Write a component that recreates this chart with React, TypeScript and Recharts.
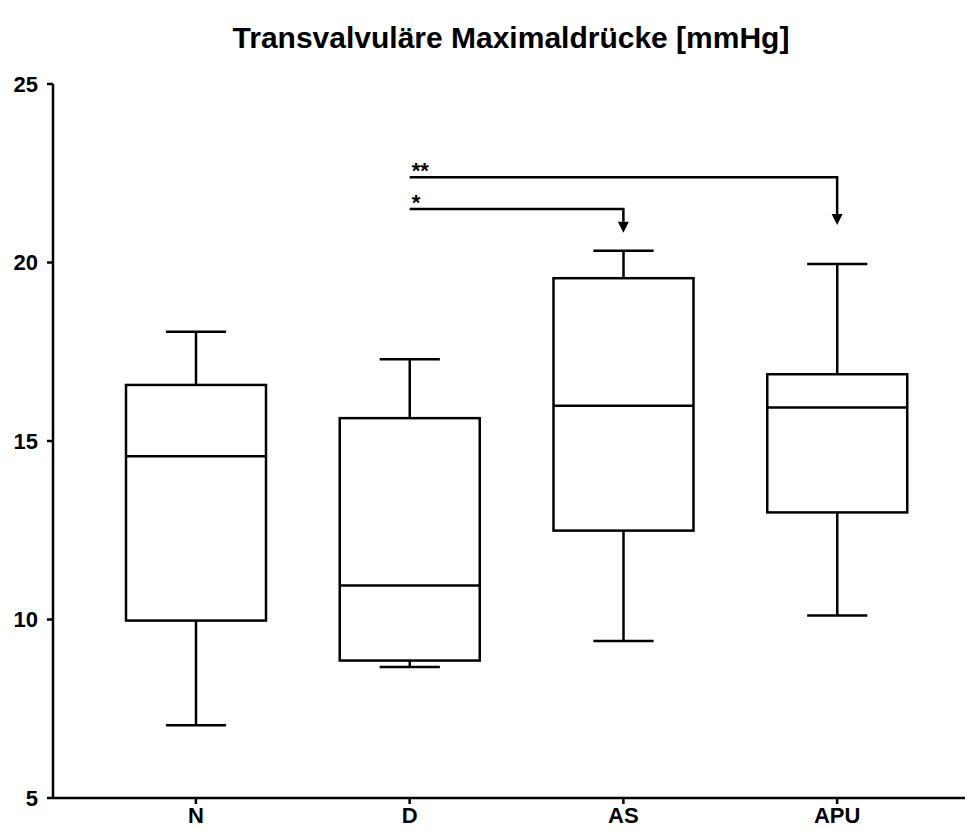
import React from 'react';
import { ComposedChart, Bar, XAxis, YAxis, ReferenceLine } from 'recharts';

// box plot values
const groups = ['N', 'D', 'AS', 'APU'];
const minValues = [7.04, 8.67, 9.4, 10.11];
const q1Values = [9.97, 8.85, 12.49, 13.0];
const medianValues = [14.57, 10.95, 15.99, 15.94];
const q3Values = [16.57, 15.64, 19.56, 16.87];
const maxValues = [18.06, 17.29, 20.33, 19.96];
const yTicks = [5, 10, 15, 20, 25];

// significance brackets (level = horizontal line, tip = arrow tip)
const comparisons = [
    { from: 'D', to: 'APU', level: 22.39, tip: 21.05, label: '**' },
    { from: 'D', to: 'AS', level: 21.5, tip: 20.83, label: '*' },
];

const data = groups.map((g, i) => ({
    group: g,
    min: minValues[i],
    q1: q1Values[i],
    median: medianValues[i],
    q3: q3Values[i],
    max: maxValues[i],
    range: [minValues[i], maxValues[i]],
}));

const FONT = '"Liberation Sans", Arial, sans-serif';
const STROKE = 2.5;

const BoxShape = (props: any) => {
    const { x, y, width, height, payload } = props;
    const { min, q1, median, q3, max } = payload;
    const top = Math.min(y, y + height);
    const h = Math.abs(height);
    const toY = (v: number) => top + (h * (max - v)) / (max - min);
    const cx = x + width / 2;
    const cap = width * 0.43;
    return (
        <g stroke="#000" strokeWidth={STROKE} fill="none">
            <line x1={cx - cap / 2} x2={cx + cap / 2} y1={toY(max)} y2={toY(max)} />
            <line x1={cx} x2={cx} y1={toY(max)} y2={toY(q3)} />
            <rect x={x} y={toY(q3)} width={width} height={toY(q1) - toY(q3)} fill="#fff" />
            <line x1={x} x2={x + width} y1={toY(median)} y2={toY(median)} />
            <line x1={cx} x2={cx} y1={toY(q1)} y2={toY(min)} />
            <line x1={cx - cap / 2} x2={cx + cap / 2} y1={toY(min)} y2={toY(min)} />
        </g>
    );
};

const arrowShape = (label: string) => (props: any) => {
    const { x1, y1, x2, y2 } = props;
    const head = 11;
    const hw = 5.5;
    return (
        <g>
            <path d={`M${x1},${y1} H${x2} V${y2 - head}`} stroke="#000" strokeWidth={STROKE} fill="none" />
            <path d={`M${x2 - hw},${y2 - head} L${x2 + hw},${y2 - head} L${x2},${y2} Z`} fill="#000" />
            <text x={x1 + 2} y={y1 + 1} fontSize={22} fontWeight="bold" fontFamily={FONT} fill="#000">
                {label}
            </text>
        </g>
    );
};

export default function App() {
    return (
        <div style={{ position: 'relative', width: 965, height: 822, background: '#fff', fontFamily: FONT }}>
            <div
                style={{
                    position: 'absolute',
                    top: 13,
                    left: 0,
                    width: 1006,
                    textAlign: 'center',
                    fontSize: 30,
                    fontWeight: 'bold',
                    color: '#000',
                }}
            >
                Transvalvuläre Maximaldrücke [mmHg]
            </div>
            <ComposedChart
                width={965}
                height={822}
                data={data}
                margin={{ top: 76, right: 5, left: 0, bottom: 0 }}
                style={{ fontFamily: FONT }}
            >
                <XAxis
                    dataKey="group"
                    height={32}
                    padding={{ left: 36, right: 24 }}
                    axisLine={{ stroke: '#000', strokeWidth: STROKE }}
                    tickLine={{ stroke: '#000', strokeWidth: STROKE }}
                    tickSize={6}
                    tickMargin={3}
                    tick={{ fill: '#000', fontSize: 22, fontWeight: 'bold' }}
                />
                <YAxis
                    width={45}
                    domain={[5, 25]}
                    ticks={yTicks}
                    interval={0}
                    axisLine={{ stroke: '#000', strokeWidth: STROKE }}
                    tickLine={{ stroke: '#000', strokeWidth: STROKE }}
                    tickSize={6}
                    tickMargin={9}
                    tick={{ fill: '#000', fontSize: 22, fontWeight: 'bold' }}
                />
                <Bar dataKey="range" barSize={140} shape={BoxShape} isAnimationActive={false} />
                {comparisons.map((c) => (
                    <ReferenceLine
                        key={c.label}
                        position="middle"
                        ifOverflow="extendDomain"
                        segment={[
                            { x: c.from, y: c.level },
                            { x: c.to, y: c.tip },
                        ]}
                        shape={arrowShape(c.label)}
                    />
                ))}
            </ComposedChart>
        </div>
    );
}
